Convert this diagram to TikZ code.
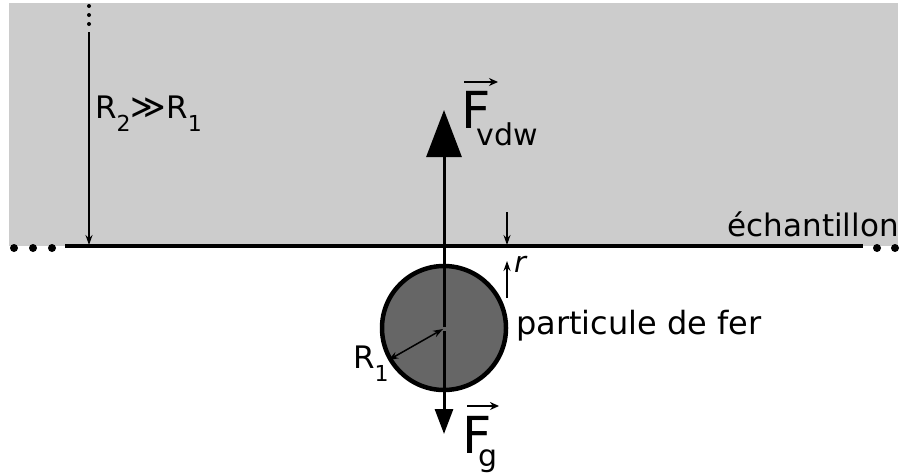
\documentclass[tikz,border=0pt]{standalone}
\usepackage{fontspec}
\setmainfont{DejaVu Sans}
\usetikzlibrary{arrows.meta}
\newcommand{\sbs}[1]{\raisebox{-13pt}{\fontsize{22}{24}\selectfont #1}}
\newcommand{\bigsub}[2]{\raisebox{-#1}{\fontsize{30}{34}\selectfont #2}}
\begin{document}
\begin{tikzpicture}[x=1pt,y=-1pt,
  lbl/.style={inner sep=0pt,font=\fontsize{31}{34}\selectfont},
  big/.style={inner sep=0pt,font=\fontsize{51}{56}\selectfont},
  thin/.style={line width=1.4pt,-{Stealth[length=10pt,width=7pt]}},
  vecarr/.style={line width=2pt,-{Stealth[length=9pt,width=8pt]}},
  dot/.style={circle,fill=black,inner sep=0pt,minimum size=8pt}]
\useasboundingbox (0,0) rectangle (907,474);
\fill[gray!40] (9,3) rectangle (898,246);
% surface line
\coordinate (L0) at (65,246);
\coordinate (L1) at (863,246);
\draw[line width=4pt] (L0) -- (L1);
\node[dot] (d1) at (14,248) {};
\node[dot] (d2) at (33,248) {};
\node[dot] (d3) at (52,248) {};
\node[dot] (d4) at (877,248) {};
\node[dot] (d5) at (895,248) {};
% particle
\node[circle,draw,line width=4.5pt,fill=black!60,minimum size=124pt,inner sep=0pt] (part) at (444,328) {};
% forces
\coordinate (c1) at (444,327);
\coordinate (c2) at (444,331);
\coordinate (up) at (444,110);
\coordinate (dn) at (444,434);
\draw[line width=3pt,-{Triangle[length=47pt,width=35pt]}] (c1) -- (up);
\draw[line width=3pt,-{Triangle[length=25pt,width=18pt]}] (c2) -- (dn);
% R1
\coordinate (ctr) at (443,329);
\draw[line width=1.5pt,{Stealth[length=10pt,width=7pt]}-{Stealth[length=10pt,width=7pt]}] (ctr) -- (part.210);
\node[lbl,anchor=base west] (r1) at (353,368) {R\sbs{1}};
% R2
\node[dot,minimum size=4pt] (e1) at (89,6) {};
\node[dot,minimum size=4pt] (e2) at (89,15) {};
\node[dot,minimum size=4pt] (e3) at (89,24) {};
\coordinate (r2top) at (89,32);
\coordinate (r2bot) at (89,245);
\draw[thin] (r2top) -- (r2bot);
\node[lbl,anchor=base west] (r2) at (95,118) {R\sbs{2}{\fontsize{34}{36}\selectfont≫}R\sbs{1}};
% r
\coordinate (ra) at (507,212);
\coordinate (rb) at (507,245);
\coordinate (rc) at (507,298);
\coordinate (rd) at (507,261);
\draw[thin] (ra) -- (rb);
\draw[thin] (rc) -- (rd);
\node[lbl,anchor=base west,font=\fontsize{29}{30}\selectfont\itshape] (rl) at (514,272) {r};
% labels
\node[lbl,anchor=base east] (ech) at (899,236) {échantillon};
\node[lbl,anchor=base west,font=\fontsize{32}{34}\selectfont] (pf) at (516,334) {particule de fer};
% F vdw
\node[big,anchor=base west] (fv) at (461,128) {F\kern-14pt\bigsub{17pt}{vdw}};
\coordinate (av0) at (464,82);
\coordinate (av1) at (498,82);
\draw[vecarr] (av0) -- (av1);
% F g
\node[big,anchor=base west] (fg) at (462,453) {F\kern-13pt\bigsub{13pt}{g}};
\coordinate (ag0) at (467,406);
\coordinate (ag1) at (499,406);
\draw[vecarr] (ag0) -- (ag1);
\end{tikzpicture}
\end{document}
